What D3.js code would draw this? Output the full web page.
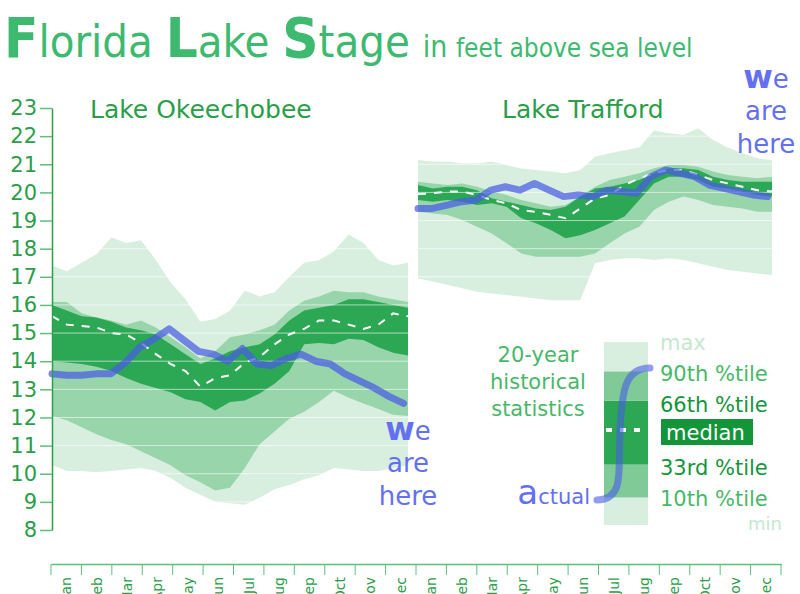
<!DOCTYPE html>
<html><head><meta charset="utf-8">
<script src="https://cdn.jsdelivr.net/npm/d3@7"></script>
<style>body{margin:0;background:#fff}text{font-family:"DejaVu Sans",Verdana,sans-serif}</style>
</head><body><svg width="800" height="594"></svg>
<script>
var months = ["Jan","Feb","Mar","Apr","May","Jun","Jul","Aug","Sep","Oct","Nov","Dec"];
var yTicks = d3.range(8, 24);

// Lake Okeechobee, half-month steps (25 points)
var okMax = [17.4,17.2,17.5,17.8,18.4,18.2,18.3,17.6,16.8,16.2,15.4,15.5,15.8,16.5,16.3,16.45,17.0,17.5,17.6,17.9,18.5,18.2,17.6,17.4,17.5];
var okP90 = [16.1,16.1,15.7,15.55,15.45,15.3,15.45,15.2,14.85,14.5,14.1,14.35,14.85,14.95,15.1,15.3,15.8,16.15,16.3,16.5,16.45,16.45,16.3,16.2,16.1];
var okP66 = [16.0,15.8,15.6,15.55,15.4,15.2,15.1,14.95,14.6,14.25,13.9,14.1,14.35,14.5,14.6,14.95,15.45,15.8,15.9,16.0,16.2,16.2,16.1,16.0,15.9];
var okMed = [15.6,15.3,15.25,15.2,15.0,14.95,14.65,14.25,13.9,13.65,13.1,13.4,13.5,13.95,14.15,14.6,14.95,15.15,15.45,15.45,15.3,15.15,15.3,15.7,15.6];
var okP33 = [14.0,13.95,13.9,13.8,13.65,13.4,13.2,13.05,12.9,12.65,12.55,12.25,12.55,12.6,12.85,13.2,13.65,14.6,14.65,14.6,14.8,14.75,14.5,14.3,14.2];
var okP10 = [12.05,11.9,11.65,11.4,11.2,11.05,10.8,10.55,10.3,9.95,9.7,9.4,9.5,10.2,11.05,11.5,11.95,12.2,12.55,12.95,12.7,12.5,12.3,12.1,12.05];
var okMin = [10.3,10.1,10.1,10.05,10.1,10.15,10.2,10.1,9.85,9.5,9.25,9.0,8.95,8.9,9.15,9.45,9.6,9.8,9.95,10.2,10.15,10.1,10.1,10.2,10.3];
var okActual = [13.55,13.5,13.5,13.55,13.55,13.95,14.5,14.8,15.15,14.75,14.35,14.25,14.0,14.45,13.9,13.85,14.1,14.25,14.0,13.9,13.55,13.3,13.05,12.75,12.5];

// Lake Trafford
var trMax = [21.15,21.1,21.1,21.03,21.03,21.1,20.97,20.85,20.8,20.74,20.68,20.8,21.27,21.39,21.5,21.6,22.2,22.1,22.04,22.28,21.86,21.6,21.39,21.21,21.15];
var trP90 = [20.38,20.32,20.26,20.32,20.2,20.03,19.91,19.73,19.61,19.49,19.55,19.85,20.2,20.44,20.56,20.68,20.86,20.97,20.97,20.91,20.74,20.62,20.56,20.5,20.56];
var trP66 = [20.26,20.14,20.2,20.2,20.08,19.79,19.67,19.55,19.43,19.37,19.49,19.85,20.14,20.2,20.32,20.44,20.68,20.86,20.86,20.8,20.56,20.44,20.38,20.38,20.38];
var trMed = [19.94,19.97,20.03,20.03,19.91,19.73,19.61,19.37,19.31,19.2,19.08,19.43,19.79,19.91,20.26,20.5,20.68,20.8,20.8,20.62,20.44,20.32,20.2,20.08,20.03];
var trP33 = [19.73,19.67,19.73,19.67,19.55,19.61,19.49,19.08,18.9,18.66,18.37,18.48,18.66,18.9,19.14,19.73,20.32,20.56,20.56,20.44,20.2,20.14,20.03,19.91,19.85];
var trP10 = [19.31,19.25,19.2,19.02,18.78,18.54,18.19,17.83,17.71,17.71,17.71,17.71,17.83,18.19,18.54,18.78,19.37,19.67,19.85,19.73,19.55,19.49,19.43,19.31,19.31];
var trMin = [16.94,16.83,16.71,16.59,16.47,16.41,16.35,16.29,16.23,16.17,16.17,16.17,17.48,17.6,17.66,17.66,17.6,17.66,17.6,17.48,17.36,17.24,17.18,17.12,17.06];
var trActual = [19.43,19.43,19.55,19.67,19.73,20.08,20.2,20.08,20.32,20.08,19.85,19.91,19.85,20.08,20.03,19.97,20.56,20.8,20.68,20.56,20.26,20.14,20.03,19.91,19.85];

var cLight = "#d8efdf", cMid = "#98d5aa", cDark = "#2ca855", cBlue = "#4a5ce6", cText = "#2a9e48";
var svg = d3.select("svg");
var y = d3.scaleLinear().domain([8, 23]).range([530, 108]);

// title
var t = svg.append("text").attr("x", 4).attr("y", 57).attr("fill", "#3dba6f")
  .style("font-family", "'DejaVu Sans Condensed','DejaVu Sans',sans-serif");
[["F",56,"bold"],["lorida ",45,"normal"],["L",56,"bold"],["ake ",45,"normal"],["S",56,"bold"],["tage ",45,"normal"],["in ",30,"normal"],["feet above sea level",26,"normal"]]
  .forEach(function(p){ t.append("tspan").text(p[0]).style("font-size", p[1]+"px").style("font-weight", p[2]); });

function panel(x0, x1, d, actualEnd){
  var x = d3.scaleLinear().domain([0, 24]).range([x0, x1]);
  var g = svg.append("g");
  function band(lo, hi, c){
    g.append("path").datum(d3.range(25)).attr("fill", c)
      .attr("d", d3.area().x(function(i){return x(i)}).y0(function(i){return y(lo[i])}).y1(function(i){return y(hi[i])}));
  }
  band(d.min, d.max, cLight);
  band(d.p10, d.p90, cMid);
  band(d.p33, d.p66, cDark);
  // white grid lines over the bands
  g.selectAll("line.grid").data(yTicks).enter().append("line")
    .attr("x1", x0).attr("x2", x1).attr("y1", function(v){return y(v)}).attr("y2", function(v){return y(v)})
    .attr("stroke", "#fff").attr("stroke-opacity", 0.6).attr("stroke-width", 1);
  g.append("path").datum(d.med).attr("fill", "none").attr("stroke", "#fff").attr("stroke-width", 2)
    .attr("stroke-dasharray", "8,8")
    .attr("d", d3.line().x(function(v,i){return x(i)}).y(function(v){return y(v)}));
  g.append("path").datum(d.act).attr("fill", "none").attr("stroke", cBlue).attr("stroke-opacity", 0.72)
    .attr("stroke-width", 7).attr("stroke-linecap", "round").attr("stroke-linejoin", "round")
    .attr("d", d3.line().x(function(v,i){return x(i * actualEnd / 24)}).y(function(v){return y(v)}));
}
panel(52, 408, {max:okMax,p90:okP90,p66:okP66,med:okMed,p33:okP33,p10:okP10,min:okMin,act:okActual}, 23.7);
panel(418, 772, {max:trMax,p90:trP90,p66:trP66,med:trMed,p33:trP33,p10:trP10,min:trMin,act:trActual}, 23.7);

// y axis
var ya = svg.append("g").attr("transform", "translate(52,0)")
  .call(d3.axisLeft(y).tickValues(yTicks).tickSize(12).tickSizeOuter(0).tickPadding(3));
ya.select(".domain").attr("stroke", cText).attr("stroke-width", 1.5);
ya.selectAll(".tick line").attr("stroke", "#5cc07a").attr("stroke-width", 1.5);
ya.selectAll("text").attr("fill", cText).style("font-size", "21px").style("font-family", "'DejaVu Sans',sans-serif");

// month axis
var xm = d3.scaleBand().domain(d3.range(24)).range([51, 781]);
var xa = svg.append("g").attr("transform", "translate(0,564)")
  .call(d3.axisBottom(xm).tickSize(0).tickSizeOuter(0).tickFormat(function(i){return months[i % 12]}));
xa.select(".domain").attr("stroke", "#5cc07a").attr("stroke-width", 1.5);
xa.selectAll("text").attr("fill", cText).style("font-size", "14px")
  .attr("transform", "rotate(-90)").attr("text-anchor", "end").attr("dy", "0.35em").attr("x", -13).attr("y", 0);
svg.append("g").selectAll("line").data(d3.range(25)).enter().append("line")
  .attr("x1", function(i){return 51 + i * 730 / 24}).attr("x2", function(i){return 51 + i * 730 / 24})
  .attr("y1", 564).attr("y2", 575).attr("stroke", "#5cc07a").attr("stroke-width", 1);

// lake names
svg.append("text").attr("x", 90).attr("y", 118).attr("fill", cText).style("font-size", "25px").text("Lake Okeechobee");
svg.append("text").attr("x", 502).attr("y", 118).attr("fill", cText).style("font-size", "25px").text("Lake Trafford");

function weAreHere(cx, y0){
  var w = svg.append("text").attr("x", cx).attr("y", y0).attr("text-anchor", "middle").attr("fill", "#6470f0").style("font-size", "26px");
  w.append("tspan").text("w").style("font-weight", "bold").style("font-size", "32px");
  w.append("tspan").text("e");
  svg.append("text").attr("x", cx).attr("y", y0 + 32).attr("text-anchor", "middle").attr("fill", "#6470f0").style("font-size", "26px").text("are");
  svg.append("text").attr("x", cx).attr("y", y0 + 65).attr("text-anchor", "middle").attr("fill", "#6470f0").style("font-size", "26px").text("here");
}
weAreHere(408, 440);
weAreHere(766, 88);

// legend
var ly = d3.scaleLinear().domain([0, 1]).range([525, 342]);
var sect = [[0,0.15,cLight],[0.15,0.33,"#7fca96"],[0.33,0.68,cDark],[0.68,0.84,"#7fca96"],[0.84,1,cLight]];
svg.append("g").selectAll("rect").data(sect).enter().append("rect")
  .attr("x", 604).attr("width", 44).attr("y", function(s){return ly(s[1])}).attr("height", function(s){return ly(s[0]) - ly(s[1])})
  .attr("fill", function(s){return s[2]});
svg.append("line").attr("x1", 606).attr("x2", 644).attr("y1", 430).attr("y2", 430)
  .attr("stroke", "#fff").attr("stroke-width", 4).attr("stroke-dasharray", "6,8");
svg.append("path").attr("d", "M597,500 C625,500 618,470 620,430 C622,390 625,368 650,368")
  .attr("fill", "none").attr("stroke", cBlue).attr("stroke-opacity", 0.6).attr("stroke-width", 7).attr("stroke-linecap", "round");
var legTxt = [["max",660,350,"#c5e8cf"],["90th %tile",660,381,"#47b867"],["66th %tile",660,412,"#13953a"],["33rd %tile",660,475,"#13953a"],["10th %tile",660,506,"#47b867"]];
svg.append("g").selectAll("text").data(legTxt).enter().append("text")
  .attr("x", function(d){return d[1]}).attr("y", function(d){return d[2]}).attr("fill", function(d){return d[3]})
  .style("font-size", "21px").text(function(d){return d[0]});
svg.append("text").attr("x", 748).attr("y", 530).attr("fill", "#c5e8cf").style("font-size", "18px").text("min");
svg.append("rect").attr("x", 661).attr("y", 419).attr("width", 92).attr("height", 26).attr("fill", "#13953a");
svg.append("text").attr("x", 666).attr("y", 440).attr("fill", "#fff").style("font-size", "21px").text("median");
[["20-year",362],["historical",389],["statistics",416]].forEach(function(p){
  svg.append("text").attr("x", 538).attr("y", p[1]).attr("text-anchor", "middle").attr("fill", "#47b867").style("font-size", "21px").text(p[0]);
});
var a = svg.append("text").attr("x", 590).attr("y", 504).attr("text-anchor", "end").attr("fill", "#6470f0").style("font-size", "21px");
a.append("tspan").text("a").style("font-size", "34px");
a.append("tspan").text("ctual");
</script></body></html>
